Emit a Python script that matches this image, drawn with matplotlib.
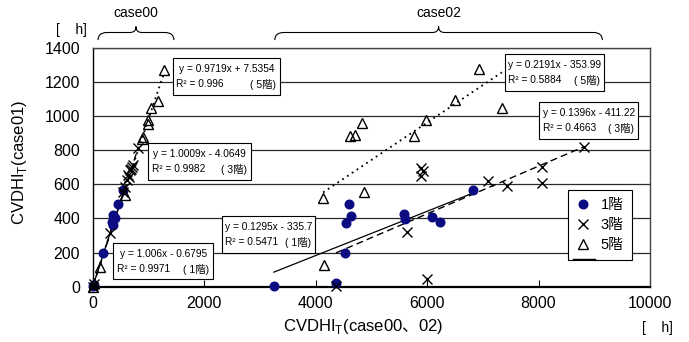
import numpy as np
import matplotlib.pyplot as plt
from matplotlib.lines import Line2D
from matplotlib.patches import Rectangle, PathPatch
from matplotlib.path import Path
from matplotlib.transforms import IdentityTransform

plt.rcParams['font.family'] = ['Liberation Sans', 'Noto Sans CJK JP']
plt.rcParams['mathtext.fontset'] = 'custom'
plt.rcParams['mathtext.rm'] = 'Liberation Sans'
plt.rcParams['mathtext.sf'] = 'Noto Sans CJK JP'

# case00 (x = case00, y = case01)
c00_1f_x = [0, 15, 190, 340, 358, 370, 400, 448, 549]
c00_1f_y = [5, 10, 200, 381, 361, 419, 400, 482, 565]
c00_3f_x = [0, 20, 310, 536, 578, 608, 638, 655, 668, 690, 700, 728, 818]
c00_3f_y = [0, 15, 312, 556, 585, 624, 653, 640, 682, 690, 700, 712, 809]
c00_5f_x = [0, 15, 131, 579, 878, 896, 985, 997, 1045, 1176, 1284]
c00_5f_y = [0, 20, 117, 536, 867, 877, 955, 975, 1043, 1088, 1267]

# case02 (x = case02, y = case01)
c02_1f_x = [3250, 4367, 4521, 4547, 4642, 4606, 5579, 5609, 6093, 6237, 6828]
c02_1f_y = [3, 20, 199, 371, 412, 484, 425, 394, 406, 380, 565]
c02_3f_x = [4367, 5645, 5896, 5926, 5890, 6004, 7102, 7432, 8070, 8070, 8823]
c02_3f_y = [5, 318, 692, 677, 647, 47, 620, 591, 702, 605, 819]
c02_5f_x = [4145, 4134, 4867, 4611, 4701, 4839, 5758, 5985, 6493, 6928, 7342]
c02_5f_y = [127, 520, 556, 881, 887, 959, 881, 975, 1092, 1273, 1047]

# trendline coefficients (slope, intercept)
fit_c00 = {'1': (1.006, -0.6795), '3': (1.0009, -4.0649), '5': (0.9719, 7.5354)}
fit_c02 = {'1': (0.1295, -335.7), '3': (0.1396, -411.22), '5': (0.2191, -353.99)}
r2_c00 = {'1': '0.9971', '3': '0.9982', '5': '0.996'}
r2_c02 = {'1': '0.5471', '3': '0.4663', '5': '0.5884'}

navy = '#0b0b82'
W, H = 689, 342
fig = plt.figure(figsize=(W / 100, H / 100), dpi=100)
ax = fig.add_axes([92.7 / W, 1 - 286.7 / H, (650 - 92.7) / W, (286.7 - 47.5) / H])


def fx(px):
    return px / W


def fy(py):
    return 1 - py / H


ax.set_xlim(0, 10000)
ax.set_ylim(0, 1400)
ax.set_xticks(np.arange(0, 10001, 2000))
ax.set_yticks(np.arange(0, 1401, 200))
ax.yaxis.grid(True, color='#2a2a2a', lw=0.9)
ax.set_axisbelow(True)
ax.tick_params(axis='x', direction='in', length=5, width=0.8, pad=6.5, labelsize=11.5)
ax.tick_params(axis='y', length=0, pad=9, labelsize=11.5)
ax.spines['left'].set_linewidth(1.0)
ax.spines['bottom'].set_linewidth(1.6)
for s in ('top', 'right'):
    ax.spines[s].set_color('#444444')
    ax.spines[s].set_linewidth(1.0)

styles = {'1': dict(ls='-', lw=0.9), '3': dict(ls=(0, (5, 3)), lw=1.0), '5': dict(ls=(0, (1, 2.2)), lw=1.3)}
series = [
    ('1', c00_1f_x, c00_1f_y, fit_c00), ('3', c00_3f_x, c00_3f_y, fit_c00), ('5', c00_5f_x, c00_5f_y, fit_c00),
    ('1', c02_1f_x, c02_1f_y, fit_c02), ('3', c02_3f_x, c02_3f_y, fit_c02), ('5', c02_5f_x, c02_5f_y, fit_c02),
]
for key, xs, ys, fits in series:
    m, b = fits[key]
    xx = np.array([min(xs), max(xs)])
    ax.plot(xx, m * xx + b, color='black', zorder=2, **styles[key])

mk = {
    '1': dict(marker='o', ls='none', color=navy, ms=6.2),
    '3': dict(marker='x', ls='none', color='black', ms=7, mew=1.0),
    '5': dict(marker='^', ls='none', mfc='none', mec='black', ms=7.5, mew=1.0),
}
for key, xs, ys, fits in series:
    ax.plot(xs, ys, clip_on=False, zorder=3, **mk[key])

handles = [Line2D([], [], **mk[k]) for k in ('1', '3', '5')]
leg = ax.legend(handles, ['1階', '3階', '5階'], loc='upper left',
                bbox_to_anchor=(fx(568), fy(190)), bbox_transform=fig.transFigure,
                borderaxespad=0, fancybox=False, framealpha=1, edgecolor='black',
                fontsize=10.5, handlelength=1.0, handletextpad=0.7, borderpad=0.55,
                labelspacing=0.4)
leg.get_frame().set_linewidth(0.8)
fig.add_artist(Line2D([fx(573), fx(595)], [fy(259), fy(259)], color='black', lw=1.0))


def eqbox(left, top, right, bottom, fits, r2s, key):
    m, b = fits[key]
    sign = '+' if b >= 0 else '-'
    fig.add_artist(Rectangle((fx(left), fy(bottom)), (right - left) / W, (bottom - top) / H,
                             transform=fig.transFigure, fc='white', ec='black', lw=0.8, zorder=4))
    fig.text(fx((left + right) / 2), fy(top + 10.5), f'y = {m:g}x {sign} {abs(b):g}',
             ha='center', va='center', fontsize=7.3, zorder=5)
    fig.text(fx(left + 3.5), fy(top + 26), f'R² = {r2s[key]}', ha='left', va='center', fontsize=7.3, zorder=5)
    fig.text(fx(right - 4), fy(top + 26), f'( {key}階)', ha='right', va='center', fontsize=7.5, zorder=5)


eqbox(172.7, 58.3, 280, 95, fit_c00, r2_c00, '5')
eqbox(148.3, 143.3, 251, 180, fit_c00, r2_c00, '3')
eqbox(113.3, 243.3, 213.3, 279.3, fit_c00, r2_c00, '1')
eqbox(221.7, 216, 315, 252.7, fit_c02, r2_c02, '1')
eqbox(505, 54, 604, 90.7, fit_c02, r2_c02, '5')
eqbox(539.3, 102.3, 638, 139, fit_c02, r2_c02, '3')


def brace(x0, x1, label):
    a = ax.transData.transform((x0, 0))[0]
    c = ax.transData.transform((x1, 0))[0]
    m = (a + c) / 2
    yb, yf, yp = H - 40, H - 32.5, H - 26.5
    verts = [(a, yb), (a, yf), (a + 9, yf), (m - 6, yf), (m, yf), (m, yp),
             (m, yf), (m + 6, yf), (c - 9, yf), (c, yf), (c, yb)]
    codes = [Path.MOVETO, Path.CURVE3, Path.CURVE3, Path.LINETO, Path.CURVE3, Path.CURVE3,
             Path.CURVE3, Path.CURVE3, Path.LINETO, Path.CURVE3, Path.CURVE3]
    fig.add_artist(PathPatch(Path(verts, codes), transform=IdentityTransform(),
                             fc='none', ec='black', lw=0.8))
    fig.text(m / W, fy(13), label, ha='center', va='center', fontsize=10)


brace(95, 1457, 'case00')
brace(3268, 9145, 'case02')

fig.text(fx(71), fy(30), '[    h]', ha='center', va='center', fontsize=10)
fig.text(fx(657), fy(328), '[    h]', ha='center', va='center', fontsize=10)
fig.text(fx(363), fy(327), r'CVDHI$_\mathrm{T}$(case00$\mathsf{、}$02)', ha='center', va='center', fontsize=12)
fig.text(fx(20), fy(162), r'CVDHI$_\mathrm{T}$(case01)', ha='center', va='center', rotation=90, fontsize=12)

fig.savefig('out.png', dpi=100)
